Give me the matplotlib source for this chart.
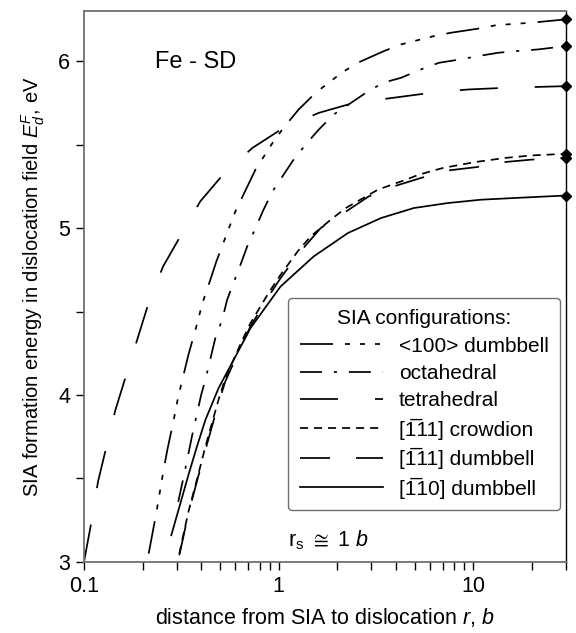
import matplotlib
matplotlib.use("Agg")
import matplotlib.pyplot as plt
from matplotlib.ticker import FixedLocator, NullFormatter

plt.rcParams['font.family'] = ['Liberation Sans', 'DejaVu Sans']
plt.rcParams['mathtext.fontset'] = 'custom'
plt.rcParams['mathtext.rm'] = 'Liberation Sans'
plt.rcParams['mathtext.it'] = 'Liberation Sans:italic'
plt.rcParams['mathtext.fallback'] = 'stixsans'
plt.rcParams['lines.scale_dashes'] = False

# distance r (in b) and formation energy (eV) for each SIA configuration
r_100 = [0.215, 0.235, 0.2555, 0.268, 0.289, 0.305, 0.344, 0.382, 0.406, 0.446, 0.479,
         0.552, 0.60, 0.761, 0.931, 1.06, 1.268, 1.55, 2.11, 2.55, 3.48, 4.26, 6.3, 7.7,
         10.7, 13.1, 19.9, 30]
e_100 = [3.05, 3.29, 3.54, 3.67, 3.85, 3.99, 4.24, 4.43, 4.55, 4.69, 4.80,
         4.99, 5.10, 5.35, 5.51, 5.60, 5.71, 5.81, 5.93, 5.99, 6.06, 6.10, 6.15, 6.17,
         6.195, 6.215, 6.23, 6.25]

r_oct = [0.305, 0.328, 0.3615, 0.40, 0.4205, 0.473, 0.513, 0.544, 0.586, 0.637, 0.69,
         0.761, 0.837, 0.931, 1.048, 1.195, 1.377, 1.61, 1.92, 2.81, 3.44, 4.26, 5.39,
         6.68, 8.57, 10.6, 13.45, 16.7, 21.6, 30]
e_oct = [3.36, 3.53, 3.77, 4.00, 4.09, 4.34, 4.45, 4.57, 4.67, 4.78, 4.89,
         5.00, 5.11, 5.22, 5.31, 5.41, 5.50, 5.59, 5.68, 5.81, 5.87, 5.90, 5.95,
         5.99, 6.01, 6.03, 6.05, 6.06, 6.07, 6.09]

r_tet = [0.100, 0.110, 0.118, 0.131, 0.145, 0.170, 0.216, 0.255, 0.316, 0.396, 0.527,
         0.734, 1.06, 1.61, 2.44, 3.87, 6.07, 9.42, 14.6, 30]
e_tet = [3.00, 3.26, 3.48, 3.70, 3.91, 4.17, 4.56, 4.77, 4.96, 5.16, 5.33,
         5.48, 5.60, 5.69, 5.75, 5.78, 5.81, 5.83, 5.84, 5.85]

r_crw = [0.309, 0.344, 0.382, 0.4205, 0.491, 0.532, 0.652, 0.717, 0.887, 1.024, 1.253,
         1.462, 1.854, 2.215, 3.24, 4.52, 5.27, 7.0, 10.2, 14.6, 20, 30]
e_crw = [3.05, 3.30, 3.50, 3.69, 3.97, 4.10, 4.33, 4.43, 4.61, 4.72, 4.86,
         4.95, 5.05, 5.12, 5.23, 5.29, 5.32, 5.36, 5.395, 5.42, 5.435, 5.445]

r_111 = [0.309, 0.344, 0.382, 0.4205, 0.491, 0.532, 0.652, 0.717, 0.887, 1.024, 1.253,
         1.646, 2.163, 2.91, 3.92, 5.39, 7.43, 10.4, 14.4, 20, 30]
e_111 = [3.04, 3.29, 3.49, 3.67, 3.95, 4.08, 4.31, 4.41, 4.59, 4.70, 4.84,
         5.00, 5.09, 5.19, 5.25, 5.30, 5.345, 5.365, 5.395, 5.41, 5.42]

r_110 = [0.281, 0.344, 0.378, 0.4205, 0.491, 0.60, 0.717, 0.85, 1.024, 1.515, 2.27,
         3.36, 4.96, 7.43, 11.0, 16.3, 30]
e_110 = [3.16, 3.52, 3.68, 3.85, 4.04, 4.23, 4.40, 4.52, 4.65, 4.83, 4.97,
         5.06, 5.12, 5.15, 5.17, 5.18, 5.195]

# "1\u0305" is a 1 with a combining overline (the bar-1 Miller index)
labels = ['<100> dumbbell', 'octahedral', 'tetrahedral',
          '[1\u030511] crowdion', '[1\u030511] dumbbell',
          '[1\u030510] dumbbell']

# dash patterns in points
styles = [(0, (23.8, 8.6, 3.6, 7.2, 3.6, 7.2, 3.6, 8.6)),
          (0, (15.8, 8.6, 2.2, 8.6)),
          (0, (27.4, 26.6)),
          (0, (5.8, 4.3)),
          (0, (21.6, 18.7)),
          '-']

series = [(r_100, e_100), (r_oct, e_oct), (r_tet, e_tet),
          (r_crw, e_crw), (r_111, e_111), (r_110, e_110)]

fig = plt.figure(figsize=(5.76, 6.33), dpi=100)
ax = fig.add_axes([0.1458, 0.1122, 0.8368, 0.8704])

for (r, e), ls, lab in zip(series, styles, labels):
    ax.plot(r, e, color='black', lw=1.25, linestyle=ls, label=lab)
    ax.plot(r[-1], e[-1], marker='D', ms=5.5, color='black', clip_on=False, zorder=5)

ax.set_xscale('log')
ax.set_xlim(0.1, 30)
ax.set_ylim(3, 6.3)

ax.xaxis.set_major_locator(FixedLocator([0.1, 1, 10]))
ax.set_xticklabels(['0.1', '1', '10'])
minor_x = [k * 0.1 for k in range(2, 10)] + list(range(2, 10)) + [20, 30]
ax.xaxis.set_minor_locator(FixedLocator(minor_x))
ax.xaxis.set_minor_formatter(NullFormatter())
ax.set_yticks([3, 4, 5, 6])
ax.set_yticklabels(['3', '4', '5', '6'])
ax.yaxis.set_minor_locator(FixedLocator([3.5, 4.5, 5.5]))

ax.tick_params(which='both', direction='out', length=5.8, width=1.0,
               labelsize=15.5, pad=4, top=False, right=False)

for side in ['left', 'top', 'bottom']:
    ax.spines[side].set_color('#707070')
    ax.spines[side].set_linewidth(1.3)
ax.spines['right'].set_color('black')
ax.spines['right'].set_linewidth(1.0)

ax.set_xlabel(r'distance from SIA to dislocation $r$, $b$', fontsize=15.5, labelpad=7)
ax.set_ylabel(r'SIA formation energy in dislocation field $E^{F}_{d}$, eV',
              fontsize=14.5, labelpad=8)

ax.text(0.147, 0.907, 'Fe - SD', transform=ax.transAxes, fontsize=17,
        va='center', ha='left')
ax.text(0.423, 0.04, r'r$_\mathregular{s}$ $\cong$ 1 $b$', transform=ax.transAxes,
        fontsize=15.5, va='center', ha='left')

leg = ax.legend(loc='lower right', bbox_to_anchor=(0.9876, 0.0944),
                title='SIA configurations:', fontsize=15, title_fontsize=15,
                handlelength=4.0, handletextpad=0.75, labelspacing=0.4,
                borderpad=0.55, borderaxespad=0.0, fancybox=True, framealpha=1)
leg.get_frame().set_edgecolor('#707070')
leg.get_frame().set_linewidth(1.0)

fig.savefig('out.png', dpi=100)
